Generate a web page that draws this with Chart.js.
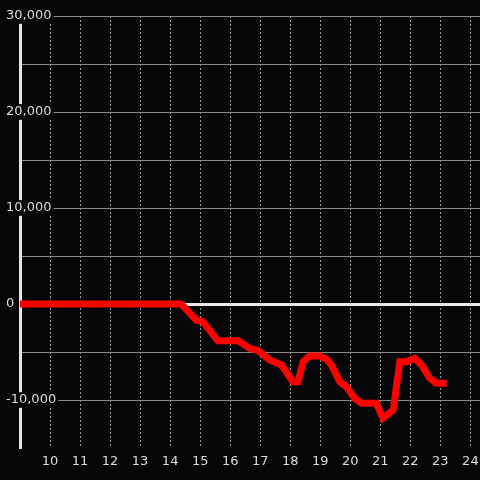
<!DOCTYPE html>
<html>
<head>
<meta charset="utf-8">
<script src="https://cdn.jsdelivr.net/npm/chart.js@4/dist/chart.umd.min.js"></script>
<style>
  html, body { margin: 0; padding: 0; background: #060609; }
  #wrap { width: 480px; height: 480px; position: relative; }
</style>
</head>
<body>
<div id="wrap"><canvas id="chart"></canvas></div>
<script>
const HOURS = [9, 14.37, 14.87, 15.09, 15.59, 16.26, 16.65, 16.93, 17.32, 17.71, 18.09, 18.26, 18.43, 18.65, 18.98, 19.21, 19.37, 19.65, 19.87, 20.15, 20.37, 20.87, 21.09, 21.43, 21.65, 21.87, 22.15, 22.37, 22.65, 22.87, 23.21];
const VALUES = [0, 0, -1670, -1840, -3820, -3820, -4620, -4860, -5830, -6350, -8090, -8090, -6010, -5420, -5420, -5760, -6350, -8090, -8610, -9820, -10340, -10340, -11900, -11040, -6010, -6010, -5660, -6350, -7740, -8260, -8260];
const X_TICKS = [10, 11, 12, 13, 14, 15, 16, 17, 18, 19, 20, 21, 22, 23, 24];
const Y_TICKS = [-10000, -5000, 0, 5000, 10000, 15000, 20000, 25000, 30000];
const Y_LABELED = [-10000, 0, 10000, 20000, 30000];

(function () {
  const points = HOURS.map(function (h, i) { return { x: h, y: VALUES[i] }; });
  const font = { family: 'DejaVu Sans', size: 13 };

  new Chart(document.getElementById('chart'), {
    type: 'line',
    data: {
      datasets: [{
        data: points,
        borderColor: '#ff0000',
        borderWidth: 7,
        pointRadius: 0,
        tension: 0,
        fill: false
      }]
    },
    options: {
      responsive: true,
      maintainAspectRatio: false,
      animation: false,
      layout: { padding: { top: 16, left: 0, right: 0, bottom: 0 } },
      plugins: { legend: { display: false }, tooltip: { enabled: false } },
      scales: {
        x: {
          type: 'linear',
          min: 9,
          max: 24.32,
          afterBuildTicks: function (scale) { scale.ticks = X_TICKS.map(function (v) { return { value: v }; }); },
          afterFit: function (scale) { scale.height = 32; scale.paddingLeft = 0; scale.paddingRight = 0; },
          grid: { color: '#9a9a9a', lineWidth: 1, drawTicks: false },
          border: { display: false, dash: [2, 2] },
          ticks: { color: '#dcdcdc', font: font, padding: 6, maxRotation: 0 }
        },
        y: {
          type: 'linear',
          min: -15000,
          max: 30000,
          afterBuildTicks: function (scale) { scale.ticks = Y_TICKS.map(function (v) { return { value: v }; }); },
          afterFit: function (scale) { scale.width = 20; scale.paddingTop = 0; scale.paddingBottom = 0; },
          grid: {
            drawTicks: false,
            color: function (ctx) { return ctx.tick && ctx.tick.value === 0 ? '#e8e8e8' : '#8a8a8a'; },
            lineWidth: function (ctx) { return ctx.tick && ctx.tick.value === 0 ? 3 : 1; }
          },
          border: { display: true, color: '#e6e6e6', width: 3 },
          ticks: {
            color: '#dcdcdc',
            font: font,
            mirror: true,
            crossAlign: 'near',
            padding: -14,
            showLabelBackdrop: true,
            backdropColor: '#060609',
            backdropPadding: { x: 2, y: 0 },
            callback: function (v) { return Y_LABELED.includes(v) ? v.toLocaleString('en-US') : ''; }
          }
        }
      }
    }
  });
})();
</script>
</body>
</html>
